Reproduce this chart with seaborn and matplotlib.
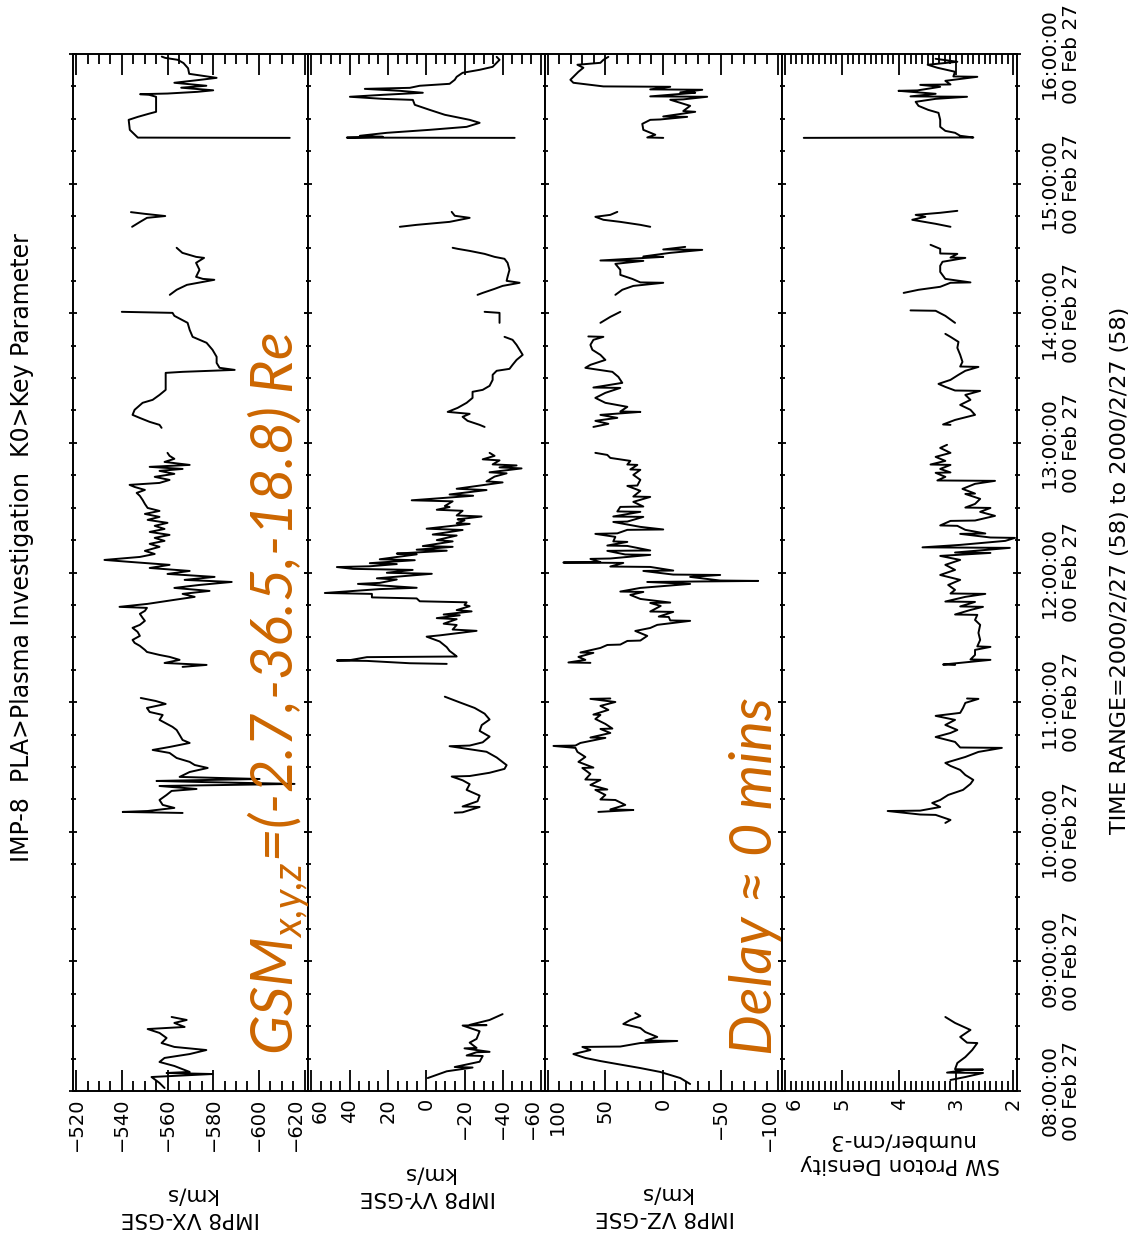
import numpy as np
import pandas as pd
import matplotlib
matplotlib.use("Agg")
import matplotlib.pyplot as plt
import matplotlib.transforms as mtransforms
import seaborn as sns
from matplotlib.ticker import MultipleLocator, FuncFormatter

# ---------------------------------------------------------------------------
# IMP-8 plasma key parameters, 2000 Feb 27, 08:00-16:00 UT.
# Time in decimal hours; None separates data gaps.
# ---------------------------------------------------------------------------
vx_time = [
    8.023, 8.062, 8.108, 8.131, 8.139, 8.147, 8.193, 8.224, 8.255, 8.285, 8.316, 8.340,
    8.370, 8.409, 8.448, 8.478, 8.494, 8.525, 8.548, 8.571, None,
    10.145, 10.153, 10.160, 10.184, 10.207, 10.245, 10.284, 10.315, 10.330, 10.353, 10.369,
    10.384, 10.392, 10.407, 10.423, 10.461, 10.492, 10.515, 10.539, 10.569, 10.608, 10.631,
    10.654, 10.685, 10.708, 10.747, 10.785, 10.809, 10.863, 10.901, 10.924, 10.955, 10.986,
    11.009, 11.032, None,
    11.272, 11.287, 11.302, 11.326, 11.349, 11.364, 11.387, 11.403, 11.434, 11.457, 11.480,
    11.511, 11.542, 11.573, 11.596, 11.627, 11.650, 11.681, 11.704, 11.727, 11.735, 11.758,
    11.789, 11.812, 11.835, 11.858, 11.881, 11.904, 11.927, 11.943, 11.966, 11.989, 12.012,
    12.035, 12.059, 12.082, 12.097, 12.120, 12.143, 12.167, 12.198, 12.221, 12.244, 12.267,
    12.290, 12.313, 12.336, 12.360, 12.383, 12.406, 12.429, 12.452, 12.475, 12.498, 12.529,
    12.560, 12.591, 12.614, 12.637, 12.660, 12.676, 12.691, 12.714, 12.738, 12.761, 12.784,
    12.799, 12.815, 12.830, 12.853, 12.877, 12.900, 12.923, None,
    13.116, 13.139, 13.162, 13.193, 13.216, 13.255, 13.309, 13.332, 13.370, 13.409, 13.486,
    13.540, 13.548, 13.563, 13.579, 13.617, 13.664, 13.718, 13.772, 13.818, 13.872, 13.926,
    13.980, 14.003, 14.011, None,
    14.142, 14.181, 14.219, 14.258, 14.265, 14.281, 14.335, 14.389, 14.427, 14.435, 14.466,
    14.505, None,
    14.667, 14.705, 14.736, 14.750, 14.767, 14.780, None,
    15.353, 15.355, 15.415, 15.492, 15.515, 15.540, 15.554, 15.608, 15.670, 15.685, 15.690,
    15.695, 15.708, 15.720, 15.740, 15.755, 15.778, 15.800, 15.816, 15.847, 15.890, 15.930,
    15.955, 15.970, 15.980,
]
vx_values = [
    -558.7, -556.5, -553.0, -579.7, -559.6, -569.7, -563.0, -556.5, -558.7, -569.7, -577.0, -563.0,
    -557.4, -559.6, -556.5, -551.3, -567.5, -563.0, -568.4, -561.8, None,
    -566.6, -540.4, -551.3, -563.0, -557.9, -556.5, -559.6, -561.8, -572.7, -556.5, -615.6,
    -574.0, -555.2, -600.3, -565.3, -569.7, -577.6, -571.9, -569.7, -564.0, -560.9, -553.5,
    -560.9, -569.7, -566.6, -565.3, -564.0, -562.2, -556.5, -557.9, -552.2, -551.0, -559.2,
    -554.8, -548.3, None,
    -566.6, -577.1, -558.7, -565.3, -560.9, -556.5, -551.0, -550.1, -547.9, -545.6, -544.7,
    -547.9, -546.9, -544.7, -547.9, -550.1, -549.1, -547.9, -550.1, -551.0, -539.0, -551.3,
    -563.0, -571.9, -566.6, -578.4, -563.0, -574.0, -588.1, -567.5, -580.6, -560.0, -569.7,
    -552.2, -560.9, -543.4, -532.4, -547.9, -554.4, -550.1, -556.5, -552.2, -558.7, -554.4,
    -560.9, -552.2, -558.7, -554.4, -560.0, -551.3, -556.5, -550.1, -556.5, -551.3, -550.1,
    -549.1, -547.9, -546.5, -550.1, -545.6, -543.4, -556.5, -560.9, -554.4, -563.0, -556.5,
    -566.6, -552.2, -569.7, -558.7, -563.0, -560.9, -560.0, None,
    -557.4, -556.5, -552.2, -547.8, -544.7, -545.6, -549.1, -553.5, -556.5, -559.2, -559.2,
    -559.2, -566.6, -589.4, -582.8, -581.5, -581.5, -579.7, -577.1, -571.0, -569.7, -568.8,
    -563.0, -562.2, -540.0, None,
    -561.0, -564.0, -568.5, -580.5, -575.5, -572.5, -574.0, -572.5, -576.0, -572.5, -566.5,
    -564.0, None,
    -544.5, -548.0, -551.0, -559.0, -550.0, -544.0, None,
    -613.5, -547.0, -543.5, -543.0, -547.0, -552.0, -555.0, -555.0, -555.0, -552.0, -548.0,
    -560.0, -573.0, -580.0, -566.0, -577.0, -563.0, -574.0, -581.5, -569.5, -569.0, -567.0,
    -564.5, -559.0, -557.5,
]

vy_time = [
    8.100, 8.152, 8.181, 8.185, 8.226, 8.270, 8.274, 8.299, 8.302, 8.329, 8.332, 8.373,
    8.402, 8.461, 8.505, 8.508, 8.510, 8.548, 8.593, None,
    10.147, 10.150, 10.191, 10.195, 10.235, 10.279, 10.323, 10.367, 10.397, 10.426, 10.430,
    10.455, 10.485, 10.514, 10.573, 10.617, 10.660, 10.665, 10.690, 10.734, 10.778, 10.823,
    10.866, 10.911, 10.955, 10.998, 11.042, None,
    11.295, 11.300, 11.318, 11.321, 11.324, 11.347, 11.352, 11.365, 11.395, 11.424, 11.468,
    11.505, 11.515, 11.550, 11.560, 11.595, 11.605, 11.640, 11.648, 11.670, 11.676, 11.700,
    11.710, 11.740, 11.750, 11.770, 11.778, 11.800, 11.808, 11.835, 11.842, 11.872, 11.882,
    11.912, 11.920, 11.946, 11.955, 11.990, 11.998, 12.020, 12.028, 12.042, 12.048, 12.065,
    12.072, 12.095, 12.102, 12.140, 12.146, 12.168, 12.176, 12.198, 12.204, 12.240, 12.250,
    12.285, 12.293, 12.328, 12.338, 12.375, 12.380, 12.402, 12.410, 12.432, 12.440, 12.476,
    12.484, 12.505, 12.513, 12.549, 12.557, 12.592, 12.602, 12.636, 12.646, 12.695, 12.703,
    12.740, 12.765, 12.773, 12.803, 12.811, 12.826, 12.834, 12.865, 12.873, 12.900, 12.923,
    None,
    13.123, 13.139, 13.170, 13.201, 13.224, 13.239, 13.270, 13.309, 13.347, 13.394, 13.409,
    13.440, 13.486, 13.525, 13.556, 13.571, 13.602, 13.640, 13.679, 13.718, 13.756, 13.795,
    13.818, None,
    13.926, 14.003, 14.011, None,
    14.142, 14.157, 14.188, 14.211, 14.235, 14.250, 14.281, 14.335, 14.389, 14.420, 14.435,
    14.458, 14.481, 14.497, 14.505, None,
    14.667, 14.682, 14.705, 14.736, 14.752, 14.782, None,
    15.353, 15.355, 15.361, 15.369, 15.392, 15.415, 15.438, 15.469, 15.492, 15.531, 15.569,
    15.608, 15.646, 15.654, 15.670, 15.685, 15.701, 15.716, 15.731, 15.739, 15.755, 15.770,
    15.801, 15.824, 15.855, 15.878, 15.901, 15.932, 15.955, 15.978,
]
vy_values = [
    -0.8, -10.7, -24.2, -14.9, -27.9, -29.5, -21.1, -26.3, -33.1, -20.0, -26.3, -22.7,
    -26.3, -27.9, -19.0, -31.5, -22.7, -33.1, -39.9, None,
    -14.9, -19.0, -27.9, -19.0, -26.8, -27.9, -21.1, -22.7, -19.0, -13.3, -22.7,
    -33.1, -40.9, -42.0, -36.8, -31.5, -12.2, -22.7, -29.5, -33.1, -27.9, -29.0,
    -33.1, -30.5, -25.3, -17.5, -9.7, None,
    -10.7, 8.6, 31.0, 46.7, 39.9, 31.0, -15.9, -14.9, -12.2, -10.7, -7.0,
    -0.2, -7.0, -26.3, -13.8, -15.9, -9.1, -15.9, -5.5, -17.5, -9.1, -23.7,
    -15.9, -22.7, -20.0, -21.1, 3.4, 5.0, 28.4, 28.4, 53.0, 24.3, 5.0,
    35.7, 24.3, 15.4, 25.8, -2.9, 20.6, 7.1, 38.3, 46.7, 29.5, 15.4,
    29.5, 6.0, 24.3, 5.0, 15.4, -10.7, 5.0, -13.8, 1.8, -13.8, -5.5,
    -15.9, -3.4, -19.0, -0.2, -22.7, -15.9, -20.0, -16.4, -28.9, -15.9, -19.0,
    -5.5, -12.2, -9.7, -13.8, 7.6, -24.5, -12.2, -31.5, -15.9, -39.9, -31.5,
    -35.7, -42.0, -33.1, -49.8, -38.3, -47.2, -34.7, -38.3, -29.5, -35.7, -33.1,
    None,
    -30.5, -27.9, -21.6, -19.0, -22.7, -11.2, -16.4, -21.1, -24.2, -24.2, -29.5,
    -33.1, -34.7, -34.7, -36.8, -43.5, -45.1, -47.2, -50.4, -48.8, -47.2, -45.1,
    -40.9, None,
    -38.3, -38.3, -30.5, None,
    -26.8, -29.5, -35.7, -39.9, -48.8, -42.0, -42.5, -43.5, -42.5, -40.9, -35.7,
    -30.5, -22.7, -16.4, -13.8, None,
    13.8, 5.0, -12.2, -22.7, -14.9, -13.3, None,
    -46.2, 41.5, 22.7, 34.7, 20.6, -1.8, -21.1, -27.9, -22.7, -9.7, -1.8,
    6.0, 7.0, 22.7, 39.9, 22.7, 1.8, 13.8, 32.1, 8.6, 3.4, -12.2,
    -14.9, -15.9, -19.0, -27.9, -34.7, -36.8, -38.3, -36.8,
]

vz_time = [
    8.054, 8.100, 8.147, 8.177, 8.208, 8.231, 8.255, 8.285, 8.316, 8.340, 8.343, 8.370,
    8.386, 8.389, 8.417, 8.455, 8.486, 8.517, 8.548, 8.579, 8.602, None,
    10.153, 10.168, 10.172, 10.207, 10.245, 10.249, 10.284, 10.323, 10.326, 10.361, 10.400,
    10.403, 10.446, 10.492, 10.495, 10.539, 10.577, 10.616, 10.647, 10.662, 10.665, 10.685,
    10.724, 10.727, 10.762, 10.793, 10.796, 10.832, 10.870, 10.901, 10.904, 10.940, 10.971,
    11.001, 11.025, 11.028, None,
    11.303, 11.306, 11.326, 11.349, 11.380, 11.383, 11.418, 11.441, 11.444, 11.472, 11.475,
    11.511, 11.549, 11.572, 11.596, 11.627, 11.630, 11.657, 11.660, 11.696, 11.699, 11.742,
    11.765, 11.768, 11.796, 11.827, 11.850, 11.853, 11.881, 11.912, 11.927, 11.935, 11.938,
    11.966, 11.981, 11.984, 12.012, 12.015, 12.043, 12.046, 12.074, 12.077, 12.080, 12.105,
    12.108, 12.136, 12.139, 12.167, 12.170, 12.205, 12.208, 12.236, 12.240, 12.275, 12.298,
    12.302, 12.329, 12.332, 12.352, 12.390, 12.393, 12.429, 12.432, 12.468, 12.471, 12.506,
    12.509, 12.545, 12.583, 12.586, 12.630, 12.668, 12.671, 12.715, 12.753, 12.792, 12.795,
    12.830, 12.833, 12.861, 12.884, 12.907, 12.923, None,
    13.123, 13.147, 13.170, 13.193, 13.216, 13.239, 13.242, 13.278, 13.309, 13.347, 13.386,
    13.424, 13.427, 13.463, 13.509, 13.548, 13.579, 13.602, 13.640, 13.679, 13.718, 13.756,
    13.795, 13.818, 13.821, None,
    13.926, 13.972, 14.011, None,
    14.142, 14.181, 14.211, 14.235, 14.238, 14.265, 14.296, 14.335, 14.381, 14.404, 14.407,
    14.435, 14.438, 14.466, 14.489, 14.492, 14.512, None,
    14.667, 14.682, 14.705, 14.721, 14.744, 14.759, 14.782, None,
    15.353, 15.356, 15.377, 15.415, 15.461, 15.492, 15.495, 15.515, 15.518, 15.554, 15.560,
    15.600, 15.647, 15.650, 15.670, 15.673, 15.701, 15.704, 15.724, 15.727, 15.747, 15.750,
    15.778, 15.801, 15.863, 15.894, 15.917, 15.932, 15.955, 15.978,
]
vz_values = [
    -23.6, -15.0, 2.4, 19.7, 39.7, 54.4, 67.5, 77.9, 63.1, 70.1, 37.1, 19.7,
    -12.4, 15.4, 5.0, 15.4, 19.7, 34.5, 28.4, 19.7, 24.1, None,
    56.2, 25.8, 45.8, 32.8, 41.4, 54.4, 50.1, 58.8, 48.4, 63.1, 54.4,
    67.5, 63.1, 70.1, 60.5, 73.5, 67.5, 74.4, 76.1, 95.2, 76.1, 71.8,
    50.1, 63.1, 45.8, 54.4, 44.0, 50.1, 58.8, 54.4, 60.5, 47.5, 54.4,
    41.4, 63.1, 45.8, None,
    63.1, 82.2, 67.5, 73.5, 60.5, 71.8, 54.4, 48.4, 37.1, 31.0, 19.7,
    13.7, 24.1, 11.1, 5.0, -23.6, -6.3, -5.0, 3.7, -8.9, 11.1, 2.0,
    11.1, -6.3, 19.7, 28.4, 17.1, 37.1, 19.7, -23.6, 13.7, -82.7, -49.7,
    -23.6, -49.7, -8.9, 17.1, -8.9, 11.1, 45.8, 34.5, 86.6, 54.4, 63.1,
    45.8, 11.1, 32.8, 48.4, 11.1, 31.0, 48.4, 31.0, 43.2, 41.4, 58.8,
    39.7, 31.0, -0.2, 19.7, 43.2, 31.0, 17.1, 43.2, 19.7, 39.7, 37.1,
    17.1, 25.8, 11.1, 25.8, 19.7, 31.0, 22.3, 19.7, 25.8, 19.7, 28.4,
    22.3, 31.0, 28.4, 45.8, 48.4, 58.8, None,
    60.5, 47.5, 58.8, 39.7, 54.4, 19.7, 37.1, 31.0, 50.1, 58.8, 50.1,
    37.1, 60.5, 35.4, 38.8, 44.0, 67.5, 63.1, 50.1, 54.4, 61.4, 63.1,
    60.5, 51.8, 64.9, None,
    54.4, 45.8, 37.1, None,
    41.4, 35.4, 25.8, -0.2, 19.7, 26.7, 37.1, 37.1, 41.4, 17.1, 54.4,
    -0.2, 17.1, -6.3, -34.1, -0.2, -19.3, None,
    11.1, 19.7, 37.1, 51.8, 58.8, 45.8, 39.7, None,
    -0.2, 13.7, 6.7, 17.1, 18.0, 11.1, 2.4, -21.0, -0.2, -28.0, -17.6,
    -23.6, -6.3, -17.6, -38.4, 11.1, -28.0, -15.0, -34.1, 11.1, -6.3, 51.8,
    77.9, 80.5, 73.5, 69.2, 74.4, 54.4, 51.8, 47.5,
]

dens_time = [
    8.085, 8.108, 8.139, 8.142, 8.162, 8.165, 8.168, 8.216, 8.262, 8.316, 8.370, 8.373,
    8.417, 8.471, 8.525, 8.571, None,
    10.068, 10.091, 10.130, 10.133, 10.160, 10.163, 10.191, 10.222, 10.245, 10.284, 10.323,
    10.369, 10.400, 10.438, 10.477, 10.508, 10.531, 10.577, 10.616, 10.647, 10.650, 10.693,
    10.731, 10.762, 10.785, 10.824, 10.863, 10.894, 10.917, 10.955, 10.994, 11.025, 11.028,
    None,
    11.287, 11.290, 11.326, 11.329, 11.364, 11.403, 11.426, 11.430, 11.480, 11.534, 11.596,
    11.634, 11.673, 11.676, 11.711, 11.735, 11.738, 11.773, 11.776, 11.812, 11.835, 11.838,
    11.866, 11.904, 11.943, 11.981, 12.020, 12.059, 12.097, 12.128, 12.151, 12.154, 12.190,
    12.194, 12.213, 12.244, 12.267, 12.270, 12.298, 12.301, 12.329, 12.360, 12.363, 12.398,
    12.401, 12.437, 12.468, 12.498, 12.501, 12.529, 12.568, 12.606, 12.609, 12.645, 12.684,
    12.707, 12.710, 12.738, 12.769, 12.772, 12.799, 12.830, 12.833, 12.861, 12.892, 12.923,
    12.961, 12.985, None,
    13.139, 13.142, 13.177, 13.216, 13.255, 13.293, 13.332, 13.370, 13.401, 13.404, 13.432,
    13.455, 13.486, 13.525, 13.556, 13.586, 13.589, 13.625, 13.679, 13.733, 13.779, 13.818,
    13.841, None,
    13.926, 13.980, 14.019, 14.022, None,
    14.157, 14.181, 14.204, 14.235, 14.238, 14.265, 14.319, 14.366, 14.397, 14.427, 14.430,
    14.458, 14.461, 14.497, 14.528, None,
    14.667, 14.690, 14.721, 14.744, 14.759, 14.775, 14.790, None,
    15.353, 15.356, 15.369, 15.392, 15.407, 15.438, 15.492, 15.546, 15.569, 15.600, 15.631,
    15.654, 15.670, 15.673, 15.693, 15.716, 15.719, 15.747, 15.762, 15.765, 15.793, 15.824,
    15.827, 15.863, 15.894, 15.917, 15.940, 15.963,
]
dens_values = [
    3.10, 2.84, 2.53, 3.16, 2.84, 2.53, 3.02, 2.98, 2.84, 2.72, 2.63, 2.81,
    2.93, 2.75, 3.02, 3.19, None,
    3.19, 3.10, 3.36, 3.63, 4.20, 3.63, 3.28, 3.42, 3.28, 3.14, 2.88,
    2.75, 2.70, 2.84, 2.93, 3.10, 3.19, 2.84, 2.61, 2.20, 2.93, 3.02,
    3.36, 3.10, 2.98, 3.19, 3.02, 3.36, 2.93, 2.88, 2.84, 2.61, 2.81,
    None,
    3.02, 3.23, 2.40, 2.75, 2.67, 2.67, 2.40, 2.63, 2.58, 2.61, 2.58,
    2.67, 2.63, 3.02, 2.75, 2.53, 2.93, 2.67, 3.19, 2.84, 2.49, 3.10,
    3.02, 3.14, 2.93, 3.28, 3.02, 3.19, 2.93, 3.28, 2.40, 3.02, 2.06,
    3.59, 2.93, 2.14, 1.97, 2.40, 2.93, 2.49, 2.84, 2.98, 3.28, 3.10,
    2.67, 2.32, 2.58, 2.40, 2.84, 2.67, 2.58, 2.84, 2.67, 2.89, 2.67,
    2.32, 3.33, 3.19, 3.36, 3.10, 3.28, 3.10, 3.45, 3.19, 3.36, 3.10,
    3.28, 3.16, None,
    3.10, 3.23, 3.02, 2.67, 2.75, 2.93, 2.75, 2.84, 2.58, 3.02, 3.19,
    3.31, 3.10, 2.96, 2.84, 2.61, 2.93, 2.89, 2.93, 2.98, 2.96, 3.10,
    3.19, None,
    3.02, 3.19, 3.36, 3.80, None,
    3.92, 3.66, 3.28, 3.10, 2.75, 3.19, 3.28, 3.28, 3.24, 2.84, 3.10,
    2.98, 3.28, 3.28, 3.45, None,
    3.10, 3.36, 3.77, 3.54, 3.71, 3.28, 2.98, None,
    5.67, 2.70, 2.93, 3.02, 3.19, 3.28, 3.28, 3.31, 3.49, 3.66, 3.71,
    3.36, 2.81, 3.80, 3.36, 4.01, 3.68, 3.28, 3.63, 3.10, 3.19, 2.63,
    3.05, 3.02, 3.33, 3.50, 2.98, 3.36,
]

panel_names = ["IMP8 VX-GSE\nkm/s", "IMP8 VY-GSE\nkm/s", "IMP8 VZ-GSE\nkm/s",
               "SW Proton Density\nnumber/cm-3"]
date_text = "00 Feb 27"
title_text = "IMP-8  PLA>Plasma Investigation  K0>Key Parameter"
range_text = "TIME RANGE=2000/2/27 (58) to 2000/2/27 (58)"
gsm_text = r"GSM$_{x{,}y{,}z}$=(-2.7,-36.5,-18.8) Re"
delay_text = "Delay \u2248 0 mins"


def to_frame(times, values):
    df = pd.DataFrame({"time": pd.to_numeric(pd.Series(times), errors="coerce"),
                       "value": pd.to_numeric(pd.Series(values), errors="coerce")})
    df["seg"] = df["time"].isna().cumsum()
    return df.dropna().reset_index(drop=True)


def fmt_value(v):
    return f"{v:g}".replace("-", "\u2212")


def value_formatter(skip):
    # end labels that share a panel border are placed separately
    def f(v, pos):
        if any(abs(v - s) < 1e-9 for s in skip):
            return ""
        return fmt_value(v)
    return FuncFormatter(f)


sns.set_theme(style="white")
plt.rcParams["font.family"] = ["DejaVu Sans"]
plt.rcParams["mathtext.fontset"] = "custom"
plt.rcParams["mathtext.it"] = "Lato:italic"
plt.rcParams["mathtext.rm"] = "Lato:italic"
plt.rcParams["axes.unicode_minus"] = True

W, H = 1130, 1237
fig = plt.figure(figsize=(W / 100, H / 100), dpi=100)
fig.patch.set_facecolor("white")

edges = [72.7, 308.0, 544.5, 781.5, 1016.7]
y_top, y_bot = 54.0, 1091.0
TICK_FS = 14
LABEL_PAD_PT = 5

# (frame, limits, major step, minor step, border labels with pixel shifts)
panels = [
    (to_frame(vx_time, vx_values), (-518.5, -621.5), 20, 5, [(-620, -9)]),
    (to_frame(vy_time, vy_values), (61.8, -61.8), 20, 5, [(60, 9), (-60, -9)]),
    (to_frame(vz_time, vz_values), (103.0, -103.0), 50, 10, [(100, 9), (-100, -9)]),
    (to_frame(dens_time, dens_values), (6.06, 1.94), 1, 0.1, [(6, 9)]),
]

for i, (df, xlim, major, minor, border_labels) in enumerate(panels):
    x0, x1 = edges[i], edges[i + 1]
    ax = fig.add_axes([x0 / W, 1 - y_bot / H, (x1 - x0) / W, (y_bot - y_top) / H])
    ax.set_facecolor("white")
    sns.lineplot(data=df, x="value", y="time", units="seg", estimator=None,
                 sort=False, color="black", linewidth=1.4, ax=ax)
    ax.set_xlim(*xlim)
    ax.set_ylim(8, 16)
    ax.set_xlabel("")
    ax.set_ylabel("")
    for sp in ax.spines.values():
        sp.set_visible(True)
        sp.set_color("black")
        sp.set_linewidth(1.4)

    ax.xaxis.set_major_locator(MultipleLocator(major))
    ax.xaxis.set_minor_locator(MultipleLocator(minor))
    ax.xaxis.set_major_formatter(value_formatter([b[0] for b in border_labels]))
    ax.tick_params(axis="x", which="both", direction="in", top=True, bottom=True,
                   labeltop=False, labelbottom=True, colors="black", width=1.3)
    ax.tick_params(axis="x", which="major", length=15, labelsize=TICK_FS,
                   labelrotation=90, pad=LABEL_PAD_PT)
    ax.tick_params(axis="x", which="minor", length=7)

    for val, dx in border_labels:
        shift = mtransforms.ScaledTranslation(dx / 100, -LABEL_PAD_PT / 72,
                                              fig.dpi_scale_trans)
        ax.text(val, 0, fmt_value(val), transform=ax.get_xaxis_transform() + shift,
                rotation=90, ha="center", va="top", fontsize=TICK_FS, color="black")

    ax.yaxis.set_major_locator(MultipleLocator(1))
    ax.yaxis.set_minor_locator(MultipleLocator(0.25))
    ax.tick_params(axis="y", which="both", direction="inout", left=True, right=True,
                   labelleft=False, labelright=(i == 3), width=1.3, colors="black")
    ax.tick_params(axis="y", which="major", length=6)
    ax.tick_params(axis="y", which="minor", length=3.6)
    if i == 3:
        ax.yaxis.set_major_formatter(FuncFormatter(
            lambda t, p: f"{int(round(t)):02d}:00:00\n{date_text}"))
        ax.tick_params(axis="y", which="major", labelsize=14.5, labelrotation=90, pad=14)
        for lbl in ax.get_yticklabels():
            lbl.set_va("center")
            lbl.set_multialignment("center")
    ax.grid(False)

# value-axis titles, upside down below each panel
label_pos = [(190, 1206), (428, 1185), (665, 1205), (900, 1152)]
for name, (lx, ly) in zip(panel_names, label_pos):
    fig.text(lx / W, 1 - ly / H, name, rotation=180, ha="center", va="center",
             fontsize=15.5, color="black", linespacing=1.2)

fig.text(22 / W, 1 - 548 / H, title_text, rotation=90, ha="center", va="center",
         fontsize=17, color="black")
fig.text(1120 / W, 1 - 570 / H, range_text, rotation=90, ha="center", va="center",
         fontsize=16, color="black")

orange = "#CC6600"
fig.text(293 / W, 1 - 1055 / H, gsm_text, rotation=90, rotation_mode="anchor",
         ha="left", va="baseline", fontsize=41.5, color=orange,
         family="Lato", style="italic")
fig.text(772 / W, 1 - 1055 / H, delay_text, rotation=90, rotation_mode="anchor",
         ha="left", va="baseline", fontsize=41.5, color=orange,
         family="Lato", style="italic")

fig.savefig("out.png", dpi=100, facecolor="white")
